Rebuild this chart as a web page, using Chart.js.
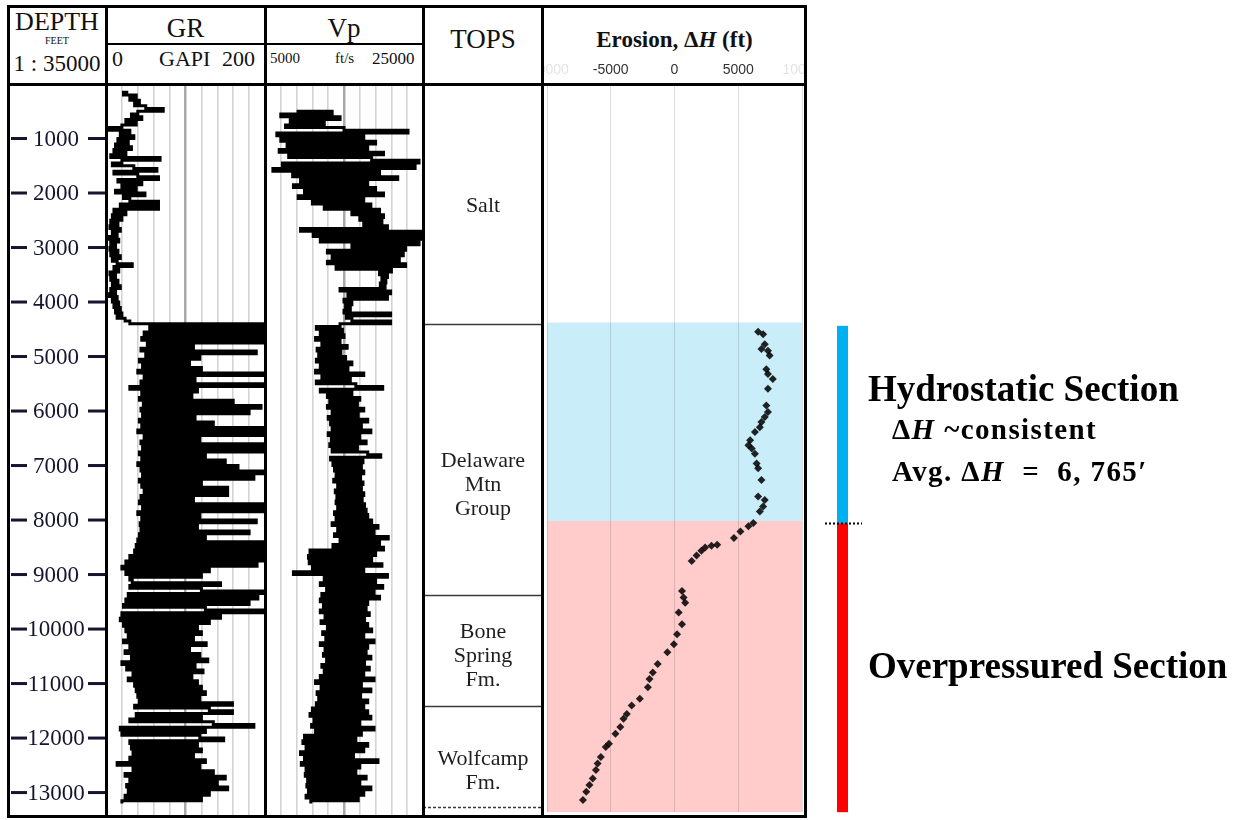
<!DOCTYPE html>
<html>
<head>
<meta charset="utf-8">
<script src="https://cdn.jsdelivr.net/npm/chart.js@4.4.0/dist/chart.umd.min.js"></script>
<style>
  body { margin: 0; background: #fff; }
  #wrap { position: relative; width: 1242px; height: 820px; overflow: hidden; background: #fff;
          font-family: "Liberation Serif", "Times New Roman", serif; color: #111; }
  canvas { position: absolute; }
  .t { position: absolute; white-space: nowrap; line-height: 1; }
  .c { text-align: center; }
  .bd { position: absolute; background: #000; }
  .ann { font-weight: bold; color: #000; }
</style>
</head>
<body>
<div id="wrap">
  <canvas id="depthTrack" width="98" height="732" style="left:8px;top:84px"></canvas>
  <canvas id="grTrack" width="159" height="732" style="left:106px;top:84px"></canvas>
  <canvas id="vpTrack" width="158" height="732" style="left:265px;top:84px"></canvas>
  <canvas id="topsTrack" width="120" height="732" style="left:423px;top:84px"></canvas>
  <canvas id="erosionTrack" width="263" height="760" style="left:543px;top:56px"></canvas>
  <canvas id="zoneBars" width="52" height="732" style="left:818px;top:84px"></canvas>

  <!-- header text -->
  <div class="t c" style="left:8px;width:98px;top:9px;font-size:26px">DEPTH</div>
  <div class="t c" style="left:8px;width:98px;top:36px;font-size:10px">FEET</div>
  <div class="t c" style="left:8px;width:98px;top:52px;font-size:23px">1 : 35000</div>
  <div class="t c" style="left:106px;width:159px;top:15px;font-size:27px">GR</div>
  <div class="t c" style="left:265px;width:158px;top:15px;font-size:27px">Vp</div>
  <div class="t" style="left:112px;top:48px;font-size:22px">0</div>
  <div class="t" style="left:159px;top:48px;font-size:22px">GAPI</div>
  <div class="t" style="left:222px;top:48px;font-size:22px">200</div>
  <div class="t" style="left:270px;top:51px;font-size:15px">5000</div>
  <div class="t" style="left:335px;top:51px;font-size:15px">ft/s</div>
  <div class="t" style="left:372px;top:50px;font-size:17px">25000</div>
  <div class="t c" style="left:423px;width:120px;top:26px;font-size:27px">TOPS</div>
  <div class="t c" style="left:543px;width:263px;top:28px;font-size:23px;font-weight:bold">Erosion, Δ<i>H</i> (ft)</div>

  <!-- right side notes -->
  <div class="t ann" style="left:868px;top:370px;font-size:37px">Hydrostatic Section</div>
  <div class="t ann" style="left:892px;top:415px;font-size:29px;letter-spacing:1.4px">Δ<i>H</i> ~consistent</div>
  <div class="t ann" style="left:892px;top:457px;font-size:29px;letter-spacing:1.4px">Avg. Δ<i>H</i>&nbsp; = &nbsp;6, 765′</div>
  <div class="t ann" style="left:868px;top:647px;font-size:37px">Overpressured Section</div>

  <!-- track frame -->
  <div class="bd" style="left:7px;top:5px;width:800px;height:3px"></div>
  <div class="bd" style="left:7px;top:83px;width:800px;height:3px"></div>
  <div class="bd" style="left:7px;top:815px;width:800px;height:3px"></div>
  <div class="bd" style="left:106px;top:43px;width:317px;height:2px"></div>
  <div class="bd" style="left:7px;top:5px;width:3px;height:813px"></div>
  <div class="bd" style="left:105px;top:5px;width:3px;height:813px"></div>
  <div class="bd" style="left:264px;top:5px;width:3px;height:813px"></div>
  <div class="bd" style="left:422px;top:5px;width:3px;height:813px"></div>
  <div class="bd" style="left:541px;top:5px;width:3px;height:813px"></div>
  <div class="bd" style="left:804px;top:5px;width:3px;height:813px"></div>
</div>

<script>
// depth axis (feet)
const depthMin = 0;
const depthMax = 13430;
const depthTicks = [1000, 2000, 3000, 4000, 5000, 6000, 7000, 8000, 9000, 10000, 11000, 12000, 13000];

// GR log, GAPI, sampled every 50 ft from 150 ft
const grStart = 150;
const grStep = 50;
const grValues = [
  28, 22, 38, 30, 42, 36, 50, 72, 40, 32, 45, 25, 38, 20, 4, 30, 18, 35, 15, 28,
  12, 32, 10, 25, 6, 68, 20, 8, 35, 64, 10, 40, 66, 15, 45, 20, 38, 12, 49, 22,
  30, 66, 18, 66, 10, 25, 8, 20, 6, 15, 5, 18, 8, 14, 4, 16, 6, 12, 5, 15,
  6, 18, 8, 14, 33, 10, 16, 5, 12, 6, 15, 8, 18, 6, 12, 4, 14, 8, 16, 10,
  18, 12, 20, 14, 24, 30, 200, 55, 198, 48, 200, 45, 200, 52, 110, 44, 189, 50, 118, 42,
  105, 46, 120, 40, 200, 48, 112, 44, 200, 30, 115, 45, 108, 42, 160, 47, 195, 44, 180, 46,
  112, 42, 135, 45, 200, 40, 200, 48, 118, 44, 200, 46, 200, 42, 125, 45, 150, 40, 166, 44,
  200, 46, 186, 42, 120, 45, 153, 48, 153, 44, 110, 42, 200, 46, 200, 40, 118, 45, 189, 43,
  115, 44, 180, 42, 125, 40, 200, 38, 200, 36, 200, 30, 200, 25, 190, 20, 130, 25, 120, 30,
  33, 144, 30, 120, 199, 28, 191, 25, 180, 22, 125, 199, 20, 144, 18, 130, 22, 115, 25, 120,
  28, 110, 22, 126, 30, 105, 24, 118, 32, 128, 20, 112, 26, 122, 34, 108, 28, 115, 36, 120,
  38, 125, 40, 118, 42, 159, 36, 130, 159, 38, 120, 30, 135, 186, 18, 125, 20, 118, 148, 30,
  115, 32, 120, 34, 110, 30, 125, 14, 118, 34, 135, 24, 150, 30, 140, 26, 153, 28, 130, 24,
  120, 20
];

// Vp log, ft/s, sampled every 50 ft from 500 ft
const vpStart = 500;
const vpStep = 50;
const vpValues = [
  9000, 13500, 7000, 14500, 8200, 12500, 7600, 15000, 23100, 6500, 17500, 7000, 19000, 7800, 18000, 6800, 20000, 8000, 18500, 24500,
  7200, 24000, 6000, 19500, 8500, 21800, 9500, 18000, 8600, 19000, 10000, 20000, 9200, 17500, 11000, 18400, 12500, 19500, 16000, 20000,
  17000, 19800, 17500, 20500, 9500, 25000, 11100, 24700, 12000, 24500, 16000, 22800, 12900, 22500, 13500, 22000, 12900, 22800, 14000, 21000,
  19500, 20500, 19800, 20300, 19600, 20200, 14500, 20900, 15500, 20500, 15000, 16000, 15200, 15800, 15000, 20900, 15300, 16000, 20900, 14500,
  11500, 14800, 12000, 15000, 11400, 14500, 12200, 15400, 11600, 14600, 11800, 15200, 11500, 16000, 12000, 15500, 11400, 17500, 12200, 15800,
  11500, 16500, 19900, 12000, 16000, 12900, 17000, 13200, 16700, 12900, 17500, 13500, 16800, 13000, 18000, 13300, 17200, 13500, 18400, 13000,
  17000, 13400, 17800, 13200, 16700, 13500, 18000, 19650, 13300, 17400, 13600, 17200, 13800, 17500, 14000, 17100, 13700, 17400, 14200, 17200,
  13900, 17500, 14100, 17300, 14000, 17600, 14200, 17800, 13800, 18000, 14000, 18500, 13500, 19300, 14200, 18800, 13800, 20600, 14500, 19500,
  13600, 20000, 10700, 19000, 10500, 18500, 10600, 19800, 11000, 17500, 8600, 20500, 12500, 19000, 12000, 19900, 12800, 18800, 12200, 19500,
  12000, 18000, 12400, 17800, 12000, 18200, 12600, 17600, 12100, 18000, 12900, 18500, 12300, 17500, 12700, 18800, 12000, 18000, 12600, 17800,
  12400, 18400, 12800, 17600, 12200, 18200, 12500, 17500, 12000, 18800, 11400, 17200, 12100, 18400, 11600, 17100, 11800, 18000, 11500, 17500,
  11000, 18000, 10700, 18400, 11200, 17000, 10900, 18800, 11400, 17200, 10000, 16500, 9800, 18000, 10200, 17500, 9500, 16200, 10000, 19300,
  9600, 17000, 10200, 16500, 10100, 17800, 10400, 17000, 10300, 18400, 10500, 17500, 10200, 16800, 10800
];

// erosion estimates, depth (ft) and delta H (ft)
const erosionDepth = [
  4570, 4615, 4800, 4890, 4920, 5010, 5260, 5350, 5440, 5620, 5930, 6050, 6145, 6235, 6330, 6420, 6570, 6665, 6725, 6820,
  7000, 7090, 7305, 7610, 7675, 7795, 7885,
  8100, 8160, 8255, 8375, 8500, 8520, 8550, 8610, 8700, 8800,
  9355, 9475, 9570, 9750, 9965, 10150, 10335, 10485, 10700, 10855, 10975, 11130, 11340, 11465, 11620, 11710, 11860, 11985,
  12170, 12230, 12415, 12535, 12655, 12810, 12930, 13055, 13210
];
const erosionValue = [
  6560, 6950, 7080, 6820, 7330, 7460, 7200, 7330, 7710, 7330, 7200, 7330, 7080, 6820, 6690, 6310, 5930, 5800, 6060, 6310,
  6440, 6560, 6820, 6560, 7080, 6950, 6690,
  6180, 5800, 5170, 4660, 3350, 2900, 2400, 2110, 1730, 1350,
  590, 710, 840, 330, 590, 200, -50, -560, -1320, -1700, -1960, -2090, -2720, -3360, -3740, -4000, -4250, -4630,
  -5140, -5390, -5780, -6030, -6160, -6410, -6670, -6920, -7180
];

// pressure zones
const zoneNames = ['Hydrostatic', 'Overpressured'];
const zoneTop = [4400, 8060];
const zoneBase = [8060, 13360];

// formation tops
const topsNames = [['Salt'], ['Delaware', 'Mtn', 'Group'], ['Bone', 'Spring', 'Fm.'], ['Wolfcamp', 'Fm.']];
const topsDepth = [4400, 9370, 11420];
const topsLabelDepth = [2250, 7370, 10500, 12600];
const totalDepth = 13270;

const grPoints = grValues.map((v, i) => ({ x: v, y: grStart + i * grStep }));
const vpPoints = vpValues.map((v, i) => ({ x: v, y: vpStart + i * vpStep }));
const erosionPoints = erosionValue.map((v, i) => ({ x: v, y: erosionDepth[i] }));

const zoneColors = ['#c9edf9', '#ffcbcb'];
const barColors = ['#00b0f0', '#ff0000'];

function depthAxis(grid) {
  return {
    type: 'linear', reverse: true, min: depthMin, max: depthMax,
    ticks: { stepSize: 1000, display: false },
    grid: Object.assign({ drawTicks: false }, grid),
    border: { display: false },
    afterFit: s => { s.width = 0; }
  };
}

function logAxis(min, max, step, mid) {
  return {
    type: 'linear', min: min, max: max, position: 'top',
    ticks: { stepSize: step, display: false },
    grid: {
      drawTicks: false,
      color: c => c.tick.value === mid ? '#a8a8a8' : '#d4d4d4',
      lineWidth: c => c.tick.value === mid ? 2.5 : 1.6
    },
    border: { display: false },
    afterFit: s => { s.height = 0; }
  };
}

const logGrid = {
  color: c => c.tick.value % 1000 === 0 ? '#b9b9b9' : 'rgba(0,0,0,0)',
  lineWidth: 2.6
};

const base = {
  responsive: false,
  animation: false,
  events: [],
  layout: { padding: 0 },
  plugins: { legend: { display: false }, tooltip: { enabled: false } }
};

const logLine = { showLine: true, stepped: true, borderColor: '#000', borderWidth: 3, pointRadius: 0 };

// depth track labels with dashes
const depthLabels = {
  id: 'depthLabels',
  afterDraw(chart) {
    const ctx = chart.ctx, y = chart.scales.y;
    ctx.save();
    ctx.fillStyle = '#15152e';
    ctx.font = '23px "Liberation Serif"';
    ctx.textAlign = 'center';
    ctx.textBaseline = 'middle';
    depthTicks.forEach(d => {
      const py = y.getPixelForValue(d);
      ctx.fillText(String(d), 48, py + 1);
      ctx.fillRect(3, py - 1.5, 16, 3);
      ctx.fillRect(80, py - 1.5, 17, 3);
    });
    ctx.restore();
  }
};

new Chart(document.getElementById('depthTrack'), {
  type: 'scatter',
  data: { datasets: [] },
  options: Object.assign({}, base, {
    scales: {
      x: { type: 'linear', min: 0, max: 1, display: false },
      y: depthAxis({ display: false })
    }
  }),
  plugins: [depthLabels]
});

new Chart(document.getElementById('grTrack'), {
  type: 'scatter',
  data: { datasets: [Object.assign({ data: grPoints }, logLine)] },
  options: Object.assign({}, base, {
    scales: { x: logAxis(0, 200, 20, 100), y: depthAxis(logGrid) }
  })
});

new Chart(document.getElementById('vpTrack'), {
  type: 'scatter',
  data: { datasets: [Object.assign({ data: vpPoints }, logLine)] },
  options: Object.assign({}, base, {
    scales: { x: logAxis(5000, 25000, 2000, 15000), y: depthAxis(logGrid) }
  })
});

// formation tops
const topsPlugin = {
  id: 'tops',
  afterDraw(chart) {
    const ctx = chart.ctx, y = chart.scales.y, a = chart.chartArea;
    ctx.save();
    ctx.strokeStyle = '#3a3a3a';
    ctx.lineWidth = 1.3;
    topsDepth.forEach(d => {
      const py = Math.round(y.getPixelForValue(d)) + 0.5;
      ctx.beginPath(); ctx.moveTo(a.left, py); ctx.lineTo(a.right, py); ctx.stroke();
    });
    ctx.setLineDash([3, 2]);
    const ty = Math.round(y.getPixelForValue(totalDepth)) + 0.5;
    ctx.beginPath(); ctx.moveTo(a.left, ty); ctx.lineTo(a.right, ty); ctx.stroke();
    ctx.setLineDash([]);
    ctx.fillStyle = '#1e1e1e';
    ctx.font = '22px "Liberation Serif"';
    ctx.textAlign = 'center';
    ctx.textBaseline = 'middle';
    const cx = (a.left + a.right) / 2;
    topsNames.forEach((lines, i) => {
      const cy = y.getPixelForValue(topsLabelDepth[i]);
      lines.forEach((s, j) => ctx.fillText(s, cx, cy + (j - (lines.length - 1) / 2) * 24));
    });
    ctx.restore();
  }
};

new Chart(document.getElementById('topsTrack'), {
  type: 'scatter',
  data: { datasets: [] },
  options: Object.assign({}, base, {
    scales: {
      x: { type: 'linear', min: 0, max: 1, display: false },
      y: depthAxis({ display: false })
    }
  }),
  plugins: [topsPlugin]
});

// coloured pressure zones behind the erosion points
const zoneBands = {
  id: 'zoneBands',
  beforeDraw(chart) {
    const ctx = chart.ctx, y = chart.scales.y, a = chart.chartArea;
    ctx.save();
    zoneNames.forEach((n, i) => {
      const top = y.getPixelForValue(zoneTop[i]);
      const bot = i === zoneNames.length - 1 ? a.bottom : y.getPixelForValue(zoneBase[i]);
      ctx.fillStyle = zoneColors[i];
      ctx.fillRect(a.left, top, a.right - a.left, bot - top);
    });
    ctx.restore();
  }
};

new Chart(document.getElementById('erosionTrack'), {
  type: 'scatter',
  data: {
    datasets: [{
      data: erosionPoints, pointStyle: 'rectRot', pointRadius: 4,
      backgroundColor: 'rgba(0,0,0,0.86)', borderWidth: 0
    }]
  },
  options: Object.assign({}, base, {
    scales: {
      x: {
        type: 'linear', min: -10000, max: 10000, position: 'top',
        ticks: {
          stepSize: 5000, autoSkip: false, maxRotation: 0, padding: 5,
          font: { family: '"Liberation Sans", Arial, sans-serif', size: 14 },
          color: c => Math.abs(c.tick.value) === 10000 ? '#e4e4e4' : '#333',
          callback: v => String(v)
        },
        grid: { drawTicks: false, color: 'rgba(0,0,0,0.13)', lineWidth: 1 },
        border: { display: false },
        afterFit: s => { s.height = 28; s.paddingLeft = 0; s.paddingRight = 0; }
      },
      y: depthAxis({ color: c => c.tick.value % 1000 === 0 ? 'rgba(0,0,0,0.11)' : 'rgba(0,0,0,0)', lineWidth: 1 })
    }
  }),
  plugins: [zoneBands]
});

// zone bars beside the track
const zoneBarPlugin = {
  id: 'zoneBar',
  afterDraw(chart) {
    const ctx = chart.ctx, y = chart.scales.y;
    ctx.save();
    zoneNames.forEach((n, i) => {
      const top = y.getPixelForValue(zoneTop[i]) + (i === 0 ? 2 : 0);
      const bot = y.getPixelForValue(zoneBase[i]);
      ctx.fillStyle = barColors[i];
      ctx.fillRect(19, top, 11, bot - top);
    });
    const py = Math.round(y.getPixelForValue(zoneTop[1])) + 0.5;
    ctx.strokeStyle = '#000';
    ctx.lineWidth = 2;
    ctx.setLineDash([2, 2]);
    ctx.beginPath(); ctx.moveTo(7, py); ctx.lineTo(44, py); ctx.stroke();
    ctx.restore();
  }
};

new Chart(document.getElementById('zoneBars'), {
  type: 'scatter',
  data: { datasets: [] },
  options: Object.assign({}, base, {
    scales: {
      x: { type: 'linear', min: 0, max: 1, display: false },
      y: depthAxis({ display: false })
    }
  }),
  plugins: [zoneBarPlugin]
});
</script>
</body>
</html>
